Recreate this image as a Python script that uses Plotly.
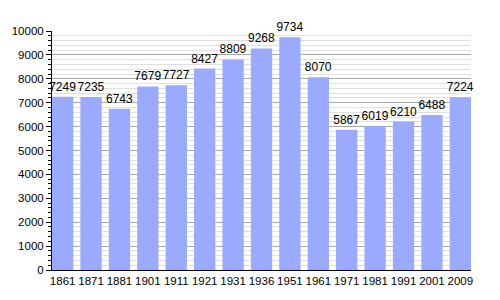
import plotly.graph_objects as go

years = ["1861", "1871", "1881", "1901", "1911", "1921", "1931", "1936", "1951", "1961", "1971", "1981", "1991", "2001", "2009"]
population = [7249, 7235, 6743, 7679, 7727, 8427, 8809, 9268, 9734, 8070, 5867, 6019, 6210, 6488, 7224]

gap = 0.25
fig = go.Figure(go.Bar(
    x=list(range(len(years))), y=population,
    marker=dict(color="#99aaff", line=dict(width=0)),
    text=[str(v) for v in population], textposition="outside",
    textfont=dict(color="black", size=12, family="Liberation Sans"),
    constraintext="none", cliponaxis=False,
))
fig.update_layout(
    width=500, height=300,
    margin=dict(l=50, r=29, t=31, b=30),
    paper_bgcolor="white", plot_bgcolor="white",
    bargap=gap, showlegend=False,
    font=dict(family="Liberation Sans", size=11, color="black"),
)
fig.update_xaxes(
    tickmode="array", tickvals=list(range(len(years))), ticktext=years,
    range=[-0.5 + gap / 2, len(years) - 0.5 - gap / 2],
    showline=True, linecolor="black", linewidth=1, ticks="", showgrid=False,
    tickfont=dict(size=11.5),
)
fig.update_yaxes(
    range=[0, 10000], dtick=1000, tickformat="d", showline=True, linecolor="black", linewidth=1,
    ticks="outside", ticklen=5, tickcolor="black", tickfont=dict(size=11.5),
    showgrid=True, gridcolor="#a8a8a8", gridwidth=1, zeroline=False,
    minor=dict(dtick=200, showgrid=True, gridcolor="#e0e0e0", ticks="outside", ticklen=3, tickcolor="black"),
)
fig.write_html("out.html")
